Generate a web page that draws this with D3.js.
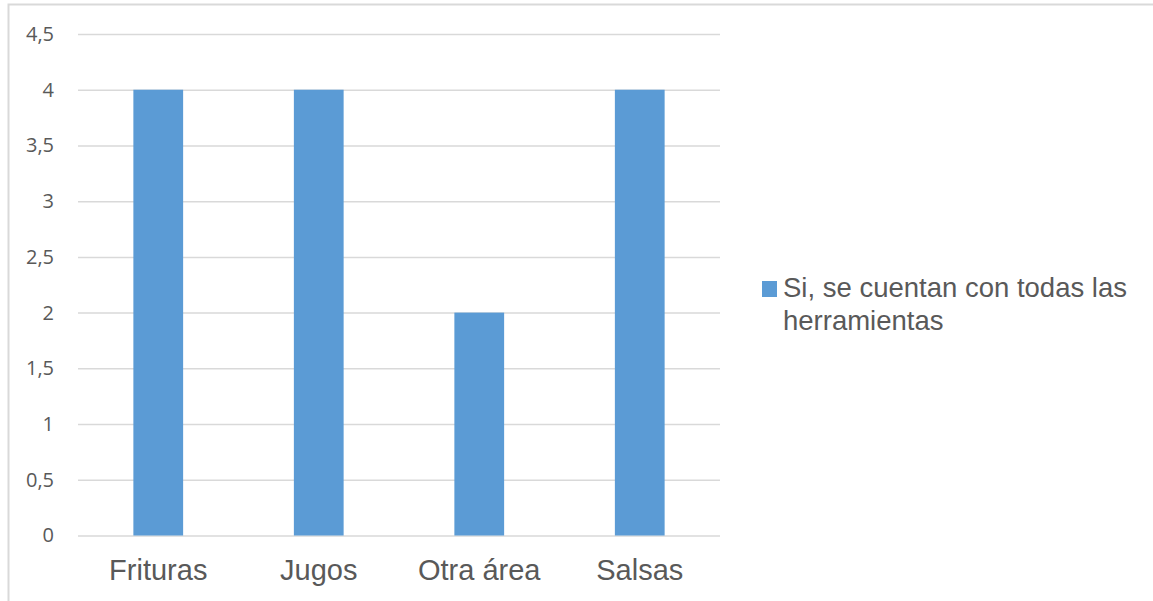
<!DOCTYPE html>
<html>
<head>
<meta charset="utf-8">
<script src="https://cdn.jsdelivr.net/npm/d3@7"></script>
<style>
  html, body { margin: 0; padding: 0; background: #fff; }
  svg { display: block; }
</style>
</head>
<body>
<svg id="chart" width="1153" height="601"></svg>
<script>
// Herramientas disponibles por área
const categories = ["Frituras", "Jugos", "Otra área", "Salsas"];
const values = [4, 4, 2, 4];
const yTicks = [0, 0.5, 1, 1.5, 2, 2.5, 3, 3.5, 4, 4.5];
const seriesName = ["Si, se cuentan con todas las", "herramientas"];

const svg = d3.select("#chart");
const W = 1153, H = 601;
const plot = { left: 78, right: 720, top: 34, bottom: 535.5 };
const barColor = "#5B9BD5";
const textColor = "#595959";
const gridColor = "#D9D9D9";

// chart frame (runs past the right and bottom edges)
svg.append("rect")
  .attr("x", 8.5).attr("y", 4.5)
  .attr("width", W + 20).attr("height", H + 20)
  .attr("fill", "#fff")
  .attr("stroke", gridColor).attr("stroke-width", 2);

const x = d3.scaleBand().domain(categories)
  .range([plot.left, plot.right])
  .paddingInner(0.69).paddingOuter(0.345);
const y = d3.scaleLinear().domain([0, 4.5]).range([plot.bottom, plot.top]);

const fmt = d => d3.format(".1~f")(d).replace(".", ",");

// gridlines and value labels
const yAxis = d3.axisLeft(y).tickValues(yTicks).tickFormat(fmt)
  .tickSize(-(plot.right - plot.left)).tickPadding(24);
const gy = svg.append("g").attr("transform", `translate(${plot.left},0)`).call(yAxis);
gy.select(".domain").remove();
gy.selectAll(".tick line").attr("stroke", gridColor).attr("stroke-width", 1.5);
gy.selectAll(".tick text")
  .attr("fill", textColor)
  .style("font-family", "'Open Sans', sans-serif")
  .style("font-size", "20px");

// bars
svg.append("g").selectAll("rect").data(values).join("rect")
  .attr("x", (d, i) => x(categories[i]))
  .attr("y", d => y(d))
  .attr("width", x.bandwidth())
  .attr("height", d => y(0) - y(d))
  .attr("fill", barColor);

// category axis
const xAxis = d3.axisBottom(x).tickSize(0).tickPadding(24);
const gx = svg.append("g").attr("transform", `translate(0,${plot.bottom})`).call(xAxis);
gx.select(".domain").remove();
gx.selectAll(".tick text")
  .attr("fill", textColor)
  .style("font-family", "'Liberation Sans', Arial, sans-serif")
  .style("font-size", "29px");

// legend
const lg = svg.append("g").attr("transform", "translate(762,281)");
lg.append("rect").attr("width", 15).attr("height", 16).attr("fill", barColor);
lg.append("text")
  .attr("x", 21).attr("y", 16)
  .attr("fill", textColor)
  .style("font-family", "'Liberation Sans', Arial, sans-serif")
  .style("font-size", "27.5px")
  .selectAll("tspan").data(seriesName).join("tspan")
  .attr("x", 21).attr("dy", (d, i) => i === 0 ? 0 : 33)
  .text(d => d);
</script>
</body>
</html>
